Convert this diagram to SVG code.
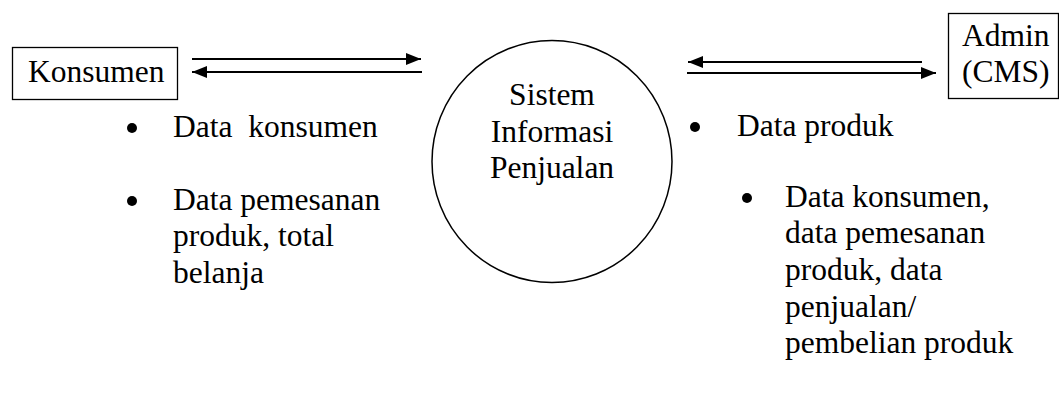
<svg xmlns="http://www.w3.org/2000/svg" width="1059" height="396" viewBox="0 0 1059 396">
<style>
.t{font-family:"Liberation Serif","Times New Roman",serif;font-size:31.5px;fill:#000;white-space:pre}
.box{fill:#fff;stroke:#000;stroke-width:1.3}
.ln{stroke:#000;stroke-width:2.2;fill:none}
</style>
<defs>
<marker id="ah" markerUnits="userSpaceOnUse" markerWidth="16" markerHeight="14" refX="15" refY="7" orient="auto">
<path d="M0,1 L15,7 L0,13 Z" fill="#000"/>
</marker>
</defs>
<rect width="1059" height="396" fill="#fff"/>
<g id="konsumen">
<rect class="box" x="12.5" y="47.5" width="165" height="52"/>
<text class="t" x="28" y="82">Konsumen</text>
</g>
<g id="admin">
<rect class="box" x="948.5" y="13.5" width="110" height="85"/>
<text class="t" x="962" y="46">Admin</text>
<text class="t" x="962" y="82">(CMS)</text>
</g>
<g id="sistem">
<ellipse cx="552" cy="161.5" rx="120" ry="121" fill="#fff" stroke="#000" stroke-width="1.5"/>
<text class="t" x="552" y="105" text-anchor="middle">Sistem</text>
<text class="t" x="552" y="142" text-anchor="middle">Informasi</text>
<text class="t" x="552" y="178" text-anchor="middle">Penjualan</text>
</g>
<g id="connectors">
<line class="ln" x1="192" y1="59" x2="421" y2="59" marker-end="url(#ah)"/>
<line class="ln" x1="422" y1="72" x2="192" y2="72" marker-end="url(#ah)"/>
<line class="ln" x1="922" y1="62" x2="688" y2="62" marker-end="url(#ah)"/>
<line class="ln" x1="687" y1="73" x2="936" y2="73" marker-end="url(#ah)"/>
</g>
<g id="label-left">
<circle cx="132" cy="128" r="5"/>
<text class="t" x="173" y="137">Data  konsumen</text>
<circle cx="132" cy="201" r="5"/>
<text class="t" x="173" y="210">Data pemesanan</text>
<text class="t" x="173" y="246">produk, total</text>
<text class="t" x="173" y="283">belanja</text>
</g>
<g id="label-right">
<circle cx="695" cy="127" r="5"/>
<text class="t" x="737" y="136">Data produk</text>
<circle cx="747" cy="198" r="5"/>
<text class="t" x="785" y="207">Data konsumen,</text>
<text class="t" x="785" y="243">data pemesanan</text>
<text class="t" x="785" y="280">produk, data</text>
<text class="t" x="785" y="317">penjualan/</text>
<text class="t" x="785" y="353">pembelian produk</text>
</g>
</svg>
